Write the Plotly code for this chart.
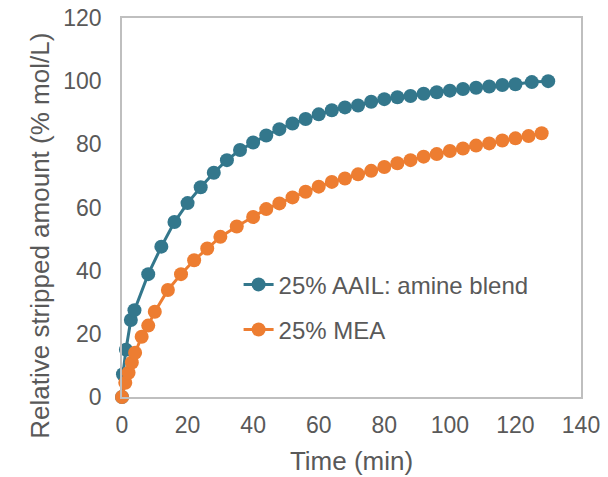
import plotly.graph_objects as go

# Data
aail_time = [0, 0.3, 1.2, 2.7, 3.8, 8, 12, 16, 20, 24, 28, 32, 36, 40, 44, 48, 52, 56, 60, 64,
             68, 72, 76, 80, 84, 88, 92, 96, 100, 104, 108, 112, 116, 120, 125, 130]
aail_values = [0, 7.2, 15, 24.4, 27.5, 38.9, 47.6, 55.4, 61.4, 66.4, 71, 75, 78.2, 80.6, 82.8,
               84.8, 86.6, 88, 89.5, 90.8, 91.7, 92.3, 93.5, 94.3, 94.9, 95.3, 96, 96.5, 97,
               97.5, 97.9, 98.3, 98.8, 99, 99.7, 100]

mea_time = [0, 1, 2, 3, 4, 6, 8, 10, 14, 18, 22, 26, 30, 35, 40, 44, 48, 52, 56, 60, 64, 68,
            72, 76, 80, 84, 88, 92, 96, 100, 104, 108, 112, 116, 120, 124, 128]
mea_values = [0, 4.5, 7.7, 10.9, 14, 19.1, 22.6, 27, 33.9, 38.9, 43.3, 47, 50.7, 54, 57, 59.5,
              61.3, 63.2, 65, 66.6, 68.1, 69.2, 70.5, 71.6, 72.8, 74, 75, 76.1, 76.9, 77.9,
              78.7, 79.6, 80.3, 81.2, 81.9, 82.6, 83.5]

x_ticks = [0, 20, 40, 60, 80, 100, 120, 140]
y_ticks = [0, 20, 40, 60, 80, 100, 120]

x_title = "Time (min)"
y_title = "Relative stripped amount (% mol/L)"

BLUE = "#33778c"
ORANGE = "#ed7d31"
GRAY_TEXT = "#595959"
AXIS_COLOR = "#bfbfbf"
FONT = "Arial, Liberation Sans, sans-serif"

fig = go.Figure()
fig.add_trace(go.Scatter(
    x=aail_time, y=aail_values, mode="lines+markers",
    name="25% AAIL: amine blend",
    line=dict(color=BLUE, width=3),
    marker=dict(color=BLUE, size=14),
    cliponaxis=False, legend="legend",
))
fig.add_trace(go.Scatter(
    x=mea_time, y=mea_values, mode="lines+markers",
    name="25% MEA",
    line=dict(color=ORANGE, width=3),
    marker=dict(color=ORANGE, size=14),
    cliponaxis=False, legend="legend2",
))

legend_common = dict(
    xref="paper", yref="paper", xanchor="left", yanchor="middle",
    bgcolor="rgba(0,0,0,0)", borderwidth=0,
    font=dict(family=FONT, size=24, color=GRAY_TEXT),
)

fig.update_layout(
    width=608, height=477,
    margin=dict(l=122, r=27, t=18, b=80, autoexpand=False),
    paper_bgcolor="white", plot_bgcolor="white",
    font=dict(family=FONT, color=GRAY_TEXT),
    showlegend=True,
    legend=dict(x=0.254, y=0.296, **legend_common),
    legend2=dict(x=0.254, y=0.177, **legend_common),
    xaxis=dict(
        range=[0, 140], tickvals=x_ticks, ticktext=[str(v) for v in x_ticks],
        showgrid=False, zeroline=False, showline=True, linecolor=AXIS_COLOR,
        linewidth=1.5, mirror=True, ticks="", ticklabelstandoff=7, automargin=False,
        tickfont=dict(family=FONT, size=23, color=GRAY_TEXT),
        title=dict(text=x_title, font=dict(family=FONT, size=26, color=GRAY_TEXT),
                   standoff=14),
    ),
    yaxis=dict(
        range=[0, 120], tickvals=y_ticks, ticktext=[str(v) for v in y_ticks],
        showgrid=False, zeroline=False, showline=True, linecolor=AXIS_COLOR,
        linewidth=1.5, mirror=True, ticks="", ticklabelstandoff=14, automargin=False,
        tickfont=dict(family=FONT, size=23, color=GRAY_TEXT),
    ),
    annotations=[dict(
        text=y_title, textangle=-90, showarrow=False,
        xref="paper", yref="paper", x=-0.179, y=0.425,
        xanchor="center", yanchor="middle",
        font=dict(family=FONT, size=26, color=GRAY_TEXT),
    )],
)

fig.write_html("out.html")
